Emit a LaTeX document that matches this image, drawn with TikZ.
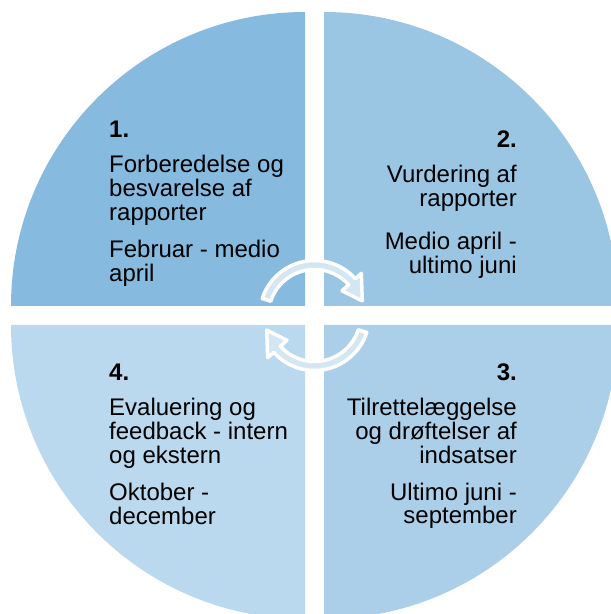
\documentclass[tikz,border=0pt]{standalone}
\usepackage{fontspec}
\setmainfont{Liberation Sans}
\definecolor{qone}{HTML}{86BADF}
\definecolor{qtwo}{HTML}{9AC6E4}
\definecolor{qthree}{HTML}{ABCFE9}
\definecolor{qfour}{HTML}{BBD9EE}
\definecolor{arrowfill}{HTML}{D5E6F3}
\begin{document}
\begin{tikzpicture}[x=1pt,y=1pt,
                        quarter/.style={draw=none},
                        phase/.style={inner sep=0pt,font=\fontsize{24pt}{23.8pt}\selectfont},
                        cyclearrow/.style={fill=arrowfill,draw=white,line width=3.5pt,line join=round}
                        ]
                        \useasboundingbox (0,0) rectangle (611,614);
                        \clip (0,0) rectangle (611,614);
                        %Vier Viertelkreise
                        \fill [quarter,qone] (305,308) -- ++(-294,0) arc[start angle=180,end angle=90,radius=294] -- cycle;
                        \fill [quarter,qtwo] (324,308) -- ++(0,294) arc[start angle=90,end angle=0,radius=294] -- cycle;
                        \fill [quarter,qthree] (324,289) -- ++(294,0) arc[start angle=0,end angle=-90,radius=294] -- cycle;
                        \fill [quarter,qfour] (305,289) -- ++(0,-294) arc[start angle=270,end angle=180,radius=294] -- cycle;
                        %Kreispfeile in der Mitte
                        \coordinate (hub) at (314.5,298.5);
                        \foreach \turn in {0,180}{
                        \begin{scope}[shift={(hub)},rotate=\turn]
                        \draw [cyclearrow] (162:55) arc[start angle=162,end angle=42,radius=55] -- (42:63) -- (17:50) -- (42:37) -- (42:46) arc[start angle=42,end angle=162,radius=46] -- cycle;
                        \end{scope}
                        }
                        %Schritt 1
                        \node [phase,align=left,anchor=north west] (step1) at (109,493)
                        {\textbf{1.}\\[11pt]Forberedelse og\\besvarelse af\\rapporter\\[14pt]Februar - medio\\april};
                        %Schritt 2
                        \node [phase,align=right,anchor=north east] (step2) at (517,483)
                        {\textbf{2.}\\[11pt]Vurdering af\\rapporter\\[19pt]Medio april -\\ultimo juni};
                        %Schritt 3
                        \node [phase,align=right,anchor=north east] (step3) at (517,250)
                        {\textbf{3.}\\[11pt]Tilrettelæggelse\\og drøftelser af\\indsatser\\[13pt]Ultimo juni -\\september};
                        %Schritt 4
                        \node [phase,align=left,anchor=north west] (step4) at (109,250)
                        {\textbf{4.}\\[11pt]Evaluering og\\feedback - intern\\og ekstern\\[14pt]Oktober -\\december};
\end{tikzpicture}
\end{document}
